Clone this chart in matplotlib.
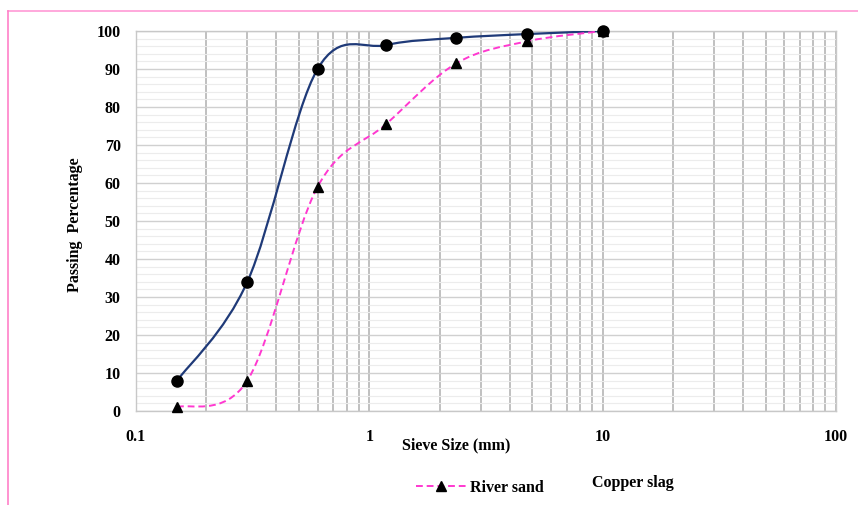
import numpy as np
import matplotlib
matplotlib.use("Agg")
import matplotlib.pyplot as plt
from matplotlib.path import Path
from matplotlib.patches import PathPatch
from matplotlib.lines import Line2D
from matplotlib.ticker import FixedLocator, NullFormatter, FixedFormatter

# ── data ──────────────────────────────────────────────
sieve_mm = [0.15, 0.3, 0.6, 1.18, 2.36, 4.75, 10]
copper_slag = [8, 34, 90, 96.3, 98.2, 99.2, 100]
river_sand = [1, 8, 59, 75.5, 91.5, 97.3, 100]

x_ticks = [0.1, 1, 10, 100]
x_tick_labels = ["0.1", "1", "10", "100"]
y_ticks = list(range(0, 101, 10))

plt.rcParams["font.family"] = ["Liberation Serif", "DejaVu Serif"]
plt.rcParams["font.weight"] = "bold"

NAVY = "#1f3a78"
PINK = "#ff38d0"


def smooth_path(xs, ys):
    """Excel-style smoothed line: cubic Bezier through points in log-x space."""
    lx = np.log10(xs)
    pts = np.column_stack([lx, ys])
    n = len(pts)
    verts = [pts[0]]
    codes = [Path.MOVETO]
    for i in range(n - 1):
        p_prev = pts[max(i - 1, 0)]
        p0 = pts[i]
        p1 = pts[i + 1]
        p_next = pts[min(i + 2, n - 1)]
        c1 = p0 + (p1 - p_prev) / 6.0
        c2 = p1 - (p_next - p0) / 6.0
        verts += [c1, c2, p1]
        codes += [Path.CURVE4] * 3
    verts = np.array(verts)
    verts[:, 0] = 10 ** verts[:, 0]
    return Path(verts, codes)


fig = plt.figure(figsize=(8.58, 5.05), dpi=100)
ax = fig.add_axes([0.1585, 0.1861, 0.8159, 0.7525])

ax.set_xscale("log")
ax.set_xlim(0.1, 100)
ax.set_ylim(0, 100)

# grid
ax.yaxis.set_minor_locator(FixedLocator(np.arange(0, 101, 2)))
ax.grid(True, which="minor", axis="y", color="#ececec", linewidth=0.8)
ax.grid(True, which="major", axis="y", color="#d0d0d0", linewidth=1.0)
ax.grid(True, which="both", axis="x", color="#c0c0c0", linewidth=1.4)
ax.set_axisbelow(True)

for side in ax.spines.values():
    side.set_color("#c8c8c8")
    side.set_linewidth(1.0)

ax.xaxis.set_major_locator(FixedLocator(x_ticks))
ax.xaxis.set_major_formatter(FixedFormatter(x_tick_labels))
ax.xaxis.set_minor_formatter(NullFormatter())
ax.set_yticks(y_ticks)
ax.tick_params(which="both", length=0)
ax.tick_params(axis="x", pad=13, labelsize=11.5)
ax.tick_params(axis="y", pad=11, labelsize=11.5)
for lbl in ax.get_xticklabels() + ax.get_yticklabels():
    lbl.set_fontweight("bold")

# curves
ax.add_patch(PathPatch(smooth_path(sieve_mm, copper_slag), fill=False,
                       edgecolor=NAVY, linewidth=1.6, zorder=3))
ax.add_patch(PathPatch(smooth_path(sieve_mm, river_sand), fill=False,
                       edgecolor=PINK, linewidth=1.4, linestyle=(0, (3.5, 2)), zorder=3))
ax.plot(sieve_mm, copper_slag, linestyle="none", marker="o", markersize=8,
        color="black", zorder=4, clip_on=False)
ax.plot(sieve_mm, river_sand, linestyle="none", marker="^", markersize=7.5,
        color="black", zorder=4, clip_on=False)

fig.text(0.087, 0.555, "Passing  Percentage", rotation=90, ha="center", va="center",
         fontsize=11.5, fontweight="bold")
fig.text(0.532, 0.118, "Sieve Size (mm)", ha="center", va="center",
         fontsize=11.5, fontweight="bold")

# legend
handle = Line2D([], [], color=PINK, linestyle=(0, (3.5, 2)), linewidth=1.4,
                marker="^", markersize=7.5, markerfacecolor="black",
                markeredgecolor="black")
fig.legend([handle], ["River sand"], loc="center left",
           bbox_to_anchor=(0.468, 0.034), frameon=False, handlelength=3.2,
           handletextpad=0.2, prop={"weight": "bold", "size": 11.5})
fig.text(0.69, 0.043, "Copper slag", ha="left", va="center",
         fontsize=11.5, fontweight="bold")

# pink frame
fig.add_artist(Line2D([0.0093, 1.0], [0.978, 0.978], color="#ff9ad6", linewidth=1.2))
fig.add_artist(Line2D([0.0093, 0.0093], [0.0, 0.978], color="#ff80c8", linewidth=1.2))

fig.savefig("out.png", dpi=100)
